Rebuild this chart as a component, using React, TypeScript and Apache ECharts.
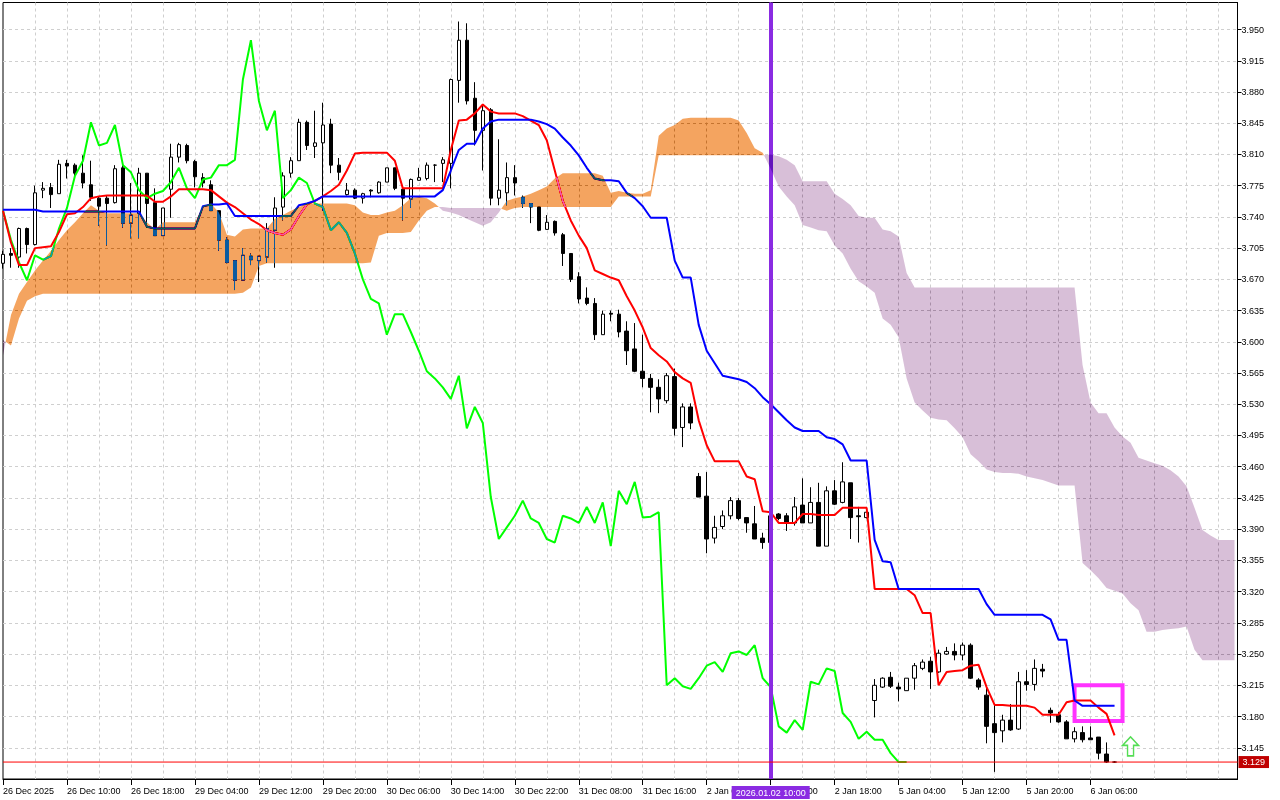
import React, { useEffect, useRef } from "react";
import * as echarts from "echarts";

// ---------- DATA (H1 bars, index = bar number) ----------
const openP = [
  3.688, 3.699, 3.695, 3.727, 3.709, 3.770, 3.773, 3.766, 3.800, 3.798,
  3.789, 3.776, 3.761, 3.761, 3.756, 3.795, 3.733, 3.744, 3.789, 3.756,
  3.719, 3.771, 3.807, 3.820, 3.802, 3.784, 3.776, 3.747, 3.714, 3.691,
  3.669, 3.696, 3.691, 3.695, 3.725, 3.751, 3.789, 3.803, 3.846, 3.819,
  3.823, 3.844, 3.798, 3.765, 3.770, 3.761, 3.770, 3.767, 3.779, 3.795,
  3.771, 3.760, 3.781, 3.783, 3.798, 3.800, 3.800, 3.893, 3.938, 3.873,
  3.837, 3.860, 3.761, 3.767, 3.784, 3.762, 3.755, 3.751, 3.726, 3.735,
  3.720, 3.699, 3.673, 3.649, 3.643, 3.608, 3.632, 3.631, 3.612, 3.592,
  3.567, 3.559, 3.549, 3.534, 3.561, 3.504, 3.527, 3.449, 3.427, 3.380,
  3.393, 3.405, 3.422, 3.403, 3.396, 3.380, 3.375, 3.407, 3.405, 3.397,
  3.417, 3.397, 3.420, 3.371, 3.433, 3.420, 3.442, 3.405, 3.403, 3.198,
  3.213, 3.224, 3.213, 3.209, 3.223, 3.234, 3.242, 3.230, 3.250, 3.253,
  3.249, 3.260, 3.221, 3.204, 3.172, 3.164, 3.176, 3.166, 3.219, 3.216,
  3.233, 3.187, 3.182, 3.174, 3.155, 3.162, 3.156, 3.157, 3.138, 3.129,
];
const highP = [
  3.702, 3.705, 3.728, 3.728, 3.775, 3.779, 3.778, 3.804, 3.804, 3.800,
  3.809, 3.803, 3.763, 3.764, 3.798, 3.798, 3.778, 3.795, 3.789, 3.772,
  3.750, 3.822, 3.823, 3.822, 3.804, 3.789, 3.781, 3.747, 3.717, 3.691,
  3.705, 3.699, 3.696, 3.733, 3.762, 3.790, 3.807, 3.850, 3.848, 3.859,
  3.868, 3.850, 3.806, 3.778, 3.772, 3.767, 3.771, 3.780, 3.795, 3.795,
  3.771, 3.783, 3.795, 3.801, 3.799, 3.807, 3.895, 3.959, 3.957, 3.891,
  3.865, 3.862, 3.827, 3.801, 3.798, 3.764, 3.755, 3.751, 3.742, 3.736,
  3.722, 3.699, 3.678, 3.661, 3.649, 3.635, 3.635, 3.636, 3.623, 3.621,
  3.608, 3.564, 3.558, 3.565, 3.570, 3.531, 3.531, 3.453, 3.454, 3.405,
  3.411, 3.426, 3.425, 3.403, 3.416, 3.386, 3.407, 3.408, 3.408, 3.426,
  3.447, 3.437, 3.442, 3.438, 3.445, 3.465, 3.442, 3.415, 3.414, 3.222,
  3.224, 3.230, 3.218, 3.223, 3.240, 3.244, 3.247, 3.255, 3.258, 3.262,
  3.263, 3.262, 3.223, 3.215, 3.193, 3.182, 3.194, 3.230, 3.232, 3.244,
  3.239, 3.190, 3.185, 3.176, 3.168, 3.169, 3.169, 3.157, 3.151, 3.130,
];
const lowP = [
  3.682, 3.683, 3.683, 3.699, 3.708, 3.761, 3.750, 3.766, 3.783, 3.783,
  3.772, 3.758, 3.730, 3.708, 3.755, 3.728, 3.716, 3.716, 3.728, 3.719,
  3.719, 3.739, 3.801, 3.800, 3.773, 3.773, 3.747, 3.702, 3.688, 3.658,
  3.669, 3.686, 3.667, 3.689, 3.683, 3.736, 3.784, 3.803, 3.815, 3.806,
  3.747, 3.789, 3.781, 3.764, 3.760, 3.755, 3.762, 3.766, 3.779, 3.770,
  3.736, 3.750, 3.781, 3.781, 3.779, 3.779, 3.772, 3.868, 3.866, 3.820,
  3.792, 3.753, 3.753, 3.753, 3.764, 3.750, 3.733, 3.724, 3.726, 3.719,
  3.685, 3.667, 3.643, 3.641, 3.602, 3.608, 3.623, 3.605, 3.574, 3.566,
  3.549, 3.521, 3.520, 3.531, 3.495, 3.482, 3.502, 3.426, 3.363, 3.374,
  3.390, 3.401, 3.400, 3.386, 3.379, 3.368, 3.371, 3.400, 3.388, 3.394,
  3.397, 3.397, 3.371, 3.371, 3.417, 3.419, 3.379, 3.375, 3.402, 3.179,
  3.212, 3.212, 3.197, 3.209, 3.210, 3.232, 3.211, 3.229, 3.249, 3.243,
  3.243, 3.222, 3.210, 3.150, 3.118, 3.151, 3.164, 3.165, 3.209, 3.209,
  3.224, 3.173, 3.173, 3.155, 3.151, 3.151, 3.154, 3.132, 3.128, 3.128,
];
const closeP = [
  3.698, 3.697, 3.727, 3.709, 3.767, 3.772, 3.765, 3.799, 3.797, 3.789,
  3.778, 3.762, 3.752, 3.755, 3.794, 3.733, 3.742, 3.789, 3.755, 3.719,
  3.750, 3.807, 3.821, 3.803, 3.785, 3.778, 3.747, 3.714, 3.689, 3.669,
  3.697, 3.692, 3.696, 3.727, 3.750, 3.786, 3.803, 3.846, 3.820, 3.823,
  3.843, 3.798, 3.790, 3.770, 3.761, 3.766, 3.769, 3.779, 3.795, 3.772,
  3.761, 3.782, 3.784, 3.798, 3.798, 3.804, 3.894, 3.938, 3.870, 3.837,
  3.859, 3.761, 3.770, 3.784, 3.778, 3.755, 3.751, 3.725, 3.734, 3.722,
  3.699, 3.670, 3.648, 3.643, 3.608, 3.631, 3.631, 3.611, 3.590, 3.567,
  3.559, 3.549, 3.536, 3.562, 3.503, 3.527, 3.509, 3.426, 3.379, 3.392,
  3.405, 3.422, 3.402, 3.397, 3.379, 3.375, 3.405, 3.402, 3.397, 3.415,
  3.397, 3.420, 3.371, 3.433, 3.418, 3.443, 3.403, 3.404, 3.409, 3.215,
  3.223, 3.214, 3.211, 3.223, 3.237, 3.241, 3.230, 3.251, 3.253, 3.249,
  3.260, 3.223, 3.213, 3.169, 3.162, 3.176, 3.165, 3.219, 3.216, 3.234,
  3.231, 3.184, 3.174, 3.155, 3.163, 3.154, 3.154, 3.139, 3.129, 3.129,
];
const tenkanSen = [
  3.747, 3.711, 3.686, 3.686, 3.705, 3.706, 3.707, 3.723, 3.743, 3.744,
  3.751, 3.761, 3.763, 3.764, 3.764, 3.764, 3.764, 3.764, 3.764, 3.757,
  3.757, 3.763, 3.771, 3.771, 3.771, 3.771, 3.770, 3.763, 3.756, 3.751,
  3.744, 3.737, 3.732, 3.725, 3.722, 3.720, 3.726, 3.741, 3.754, 3.758,
  3.763, 3.769, 3.776, 3.792, 3.811, 3.812, 3.812, 3.812, 3.812, 3.803,
  3.772, 3.772, 3.772, 3.772, 3.772, 3.772, 3.815, 3.848, 3.849, 3.856,
  3.866, 3.858, 3.856, 3.856, 3.856, 3.853, 3.848, 3.843, 3.826, 3.792,
  3.758, 3.736, 3.719, 3.705, 3.680, 3.676, 3.672, 3.669, 3.651, 3.635,
  3.616, 3.593, 3.585, 3.578, 3.566, 3.559, 3.554, 3.512, 3.484, 3.466,
  3.466, 3.466, 3.466, 3.449, 3.446, 3.410, 3.409, 3.397, 3.397, 3.397,
  3.407, 3.407, 3.406, 3.406, 3.406, 3.414, 3.414, 3.414, 3.414, 3.323,
  3.323, 3.323, 3.323, 3.323, 3.316, 3.296, 3.296, 3.215, 3.230, 3.231,
  3.232, 3.237, 3.238, 3.213, 3.193, 3.193, 3.192, 3.192, 3.192, 3.190,
  3.182, 3.182, 3.182, 3.196, 3.198, 3.198, 3.198, 3.190, 3.183, 3.159,
];
const kijunSen = [
  3.748, 3.748, 3.748, 3.748, 3.748, 3.746, 3.746, 3.746, 3.746, 3.746,
  3.746, 3.746, 3.746, 3.746, 3.746, 3.746, 3.746, 3.746, 3.729, 3.727,
  3.727, 3.727, 3.727, 3.727, 3.727, 3.752, 3.754, 3.754, 3.755, 3.741,
  3.741, 3.741, 3.741, 3.741, 3.741, 3.741, 3.741, 3.753, 3.755, 3.758,
  3.763, 3.763, 3.763, 3.763, 3.763, 3.763, 3.763, 3.763, 3.763, 3.763,
  3.763, 3.763, 3.763, 3.763, 3.763, 3.770, 3.792, 3.815, 3.822, 3.822,
  3.839, 3.847, 3.849, 3.849, 3.849, 3.849, 3.849, 3.847, 3.844, 3.839,
  3.829, 3.820, 3.809, 3.795, 3.783, 3.781, 3.781, 3.780, 3.767, 3.761,
  3.752, 3.739, 3.739, 3.739, 3.691, 3.672, 3.672, 3.619, 3.590, 3.576,
  3.562, 3.560, 3.558, 3.555, 3.548, 3.538, 3.530, 3.521, 3.512, 3.504,
  3.500, 3.500, 3.500, 3.493, 3.491, 3.485, 3.467, 3.467, 3.467, 3.378,
  3.354, 3.353, 3.323, 3.323, 3.323, 3.323, 3.323, 3.323, 3.323, 3.323,
  3.323, 3.323, 3.323, 3.306, 3.294, 3.294, 3.294, 3.294, 3.294, 3.294,
  3.294, 3.289, 3.266, 3.266, 3.198, 3.192, 3.192, 3.192, 3.192, 3.192,
];
// Senkou spans, plotted 26 bars ahead (indices run past the last candle)
const senkouA = [
  3.585, 3.630, 3.654, 3.667, 3.680, 3.691, 3.702, 3.714, 3.725, 3.734,
  3.744, 3.753, 3.747, 3.744, 3.744, 3.744, 3.744, 3.744, 3.734, 3.726,
  3.734, 3.734, 3.734, 3.734, 3.734, 3.752, 3.755, 3.745, 3.720, 3.718,
  3.726, 3.727, 3.727, 3.727, 3.738, 3.742, 3.747, 3.751, 3.755, 3.755,
  3.755, 3.755, 3.755, 3.755, 3.753, 3.745, 3.742, 3.742, 3.745, 3.747,
  3.753, 3.761, 3.762, 3.761, 3.755, 3.747, 3.745, 3.742, 3.738, 3.734,
  3.730, 3.734, 3.745, 3.758, 3.761, 3.763, 3.766, 3.770, 3.774, 3.783,
  3.789, 3.789, 3.789, 3.789, 3.789, 3.786, 3.767, 3.769, 3.767, 3.766,
  3.766, 3.770, 3.831, 3.839, 3.843, 3.850, 3.851, 3.851, 3.851, 3.851,
  3.851, 3.851, 3.848, 3.834, 3.817, 3.812, 3.794, 3.774, 3.763, 3.753,
  3.731, 3.728, 3.725, 3.724, 3.708, 3.699, 3.682, 3.668, 3.662, 3.655,
  3.626, 3.619, 3.605, 3.559, 3.532, 3.523, 3.515, 3.513, 3.512, 3.503,
  3.493, 3.474, 3.466, 3.457, 3.454, 3.453, 3.453, 3.452, 3.449, 3.447,
  3.445, 3.442, 3.439, 3.439, 3.439, 3.352, 3.344, 3.335, 3.324, 3.321,
  3.318, 3.307, 3.299, 3.275, 3.275, 3.277, 3.278, 3.279, 3.281, 3.255,
  3.243, 3.243, 3.243, 3.243, 3.243,
];
const senkouB = [
  3.602, 3.596, 3.626, 3.646, 3.651, 3.654, 3.654, 3.654, 3.654, 3.654,
  3.654, 3.654, 3.654, 3.654, 3.654, 3.654, 3.654, 3.654, 3.654, 3.654,
  3.654, 3.654, 3.654, 3.654, 3.654, 3.654, 3.654, 3.654, 3.654, 3.654,
  3.655, 3.661, 3.685, 3.688, 3.688, 3.688, 3.688, 3.688, 3.688, 3.688,
  3.688, 3.688, 3.688, 3.688, 3.688, 3.688, 3.689, 3.719, 3.722, 3.722,
  3.722, 3.723, 3.736, 3.747, 3.751, 3.751, 3.750, 3.750, 3.750, 3.750,
  3.750, 3.750, 3.750, 3.747, 3.750, 3.751, 3.751, 3.751, 3.751, 3.751,
  3.751, 3.751, 3.751, 3.751, 3.751, 3.751, 3.751, 3.763, 3.763, 3.763,
  3.763, 3.763, 3.809, 3.809, 3.809, 3.809, 3.809, 3.809, 3.809, 3.809,
  3.809, 3.809, 3.809, 3.809, 3.809, 3.809, 3.810, 3.808, 3.804, 3.798,
  3.780, 3.780, 3.780, 3.780, 3.766, 3.760, 3.753, 3.741, 3.739, 3.739,
  3.726, 3.724, 3.718, 3.677, 3.661, 3.661, 3.661, 3.661, 3.661, 3.661,
  3.661, 3.661, 3.661, 3.661, 3.661, 3.661, 3.661, 3.661, 3.661, 3.661,
  3.661, 3.661, 3.661, 3.661, 3.661, 3.574, 3.532, 3.520, 3.520, 3.504,
  3.494, 3.487, 3.470, 3.467, 3.464, 3.461, 3.456, 3.449, 3.438, 3.414,
  3.389, 3.383, 3.378, 3.378, 3.378,
];
const CHIKOU_SHIFT = 26;

// time-axis labels, one every 8 bars
const timeLabelBars = [0, 8, 16, 24, 32, 40, 48, 56, 64, 72, 80, 88, 96, 104, 112, 120, 128, 136];
const timeLabels = [
  "26 Dec 2025", "26 Dec 10:00", "26 Dec 18:00", "29 Dec 04:00", "29 Dec 12:00",
  "29 Dec 20:00", "30 Dec 06:00", "30 Dec 14:00", "30 Dec 22:00", "31 Dec 08:00",
  "31 Dec 16:00", "2 Jan 02:00", "2 Jan 10:00", "2 Jan 18:00", "5 Jan 04:00",
  "5 Jan 12:00", "5 Jan 20:00", "6 Jan 06:00",
];
const priceMin = 3.11;
const priceMax = 3.9803;
const priceStep = 0.035;
const bidPrice = 3.129;
const markerBar = 96;
const markerLabel = "2026.01.02 10:00";
const boxBars = [134, 140];
const boxPrices = [3.215, 3.175];
const arrowAt = [141, 3.1465];

const FONT = "Liberation Sans, Arial, sans-serif";
// cloud colours are drawn with a "difference" blend (MT4 XOR style):
// #0b5b9f over white -> #f4a460 (sandy brown), #274027 over white -> #d8bfd8 (thistle)
const CLOUD_UP = "#0b5b9f";
const CLOUD_DOWN = "#274027";
const blendCss = `[fill="${CLOUD_UP}"],[fill="${CLOUD_DOWN}"]{mix-blend-mode:difference;}`;

const XMAX = 154.375;

function buildOption(): any {
  const candles = openP.map((o, i) => [i, o, closeP[i], lowP[i], highP[i]]);
  const tenkanData = tenkanSen.map((v, i) => [i, v]);
  const kijunData = kijunSen.map((v, i) => [i, v]);
  const chikouData = closeP.slice(CHIKOU_SHIFT).map((v, i) => [i, v]);

  const renderCloud = (_params: any, api: any) => {
    const children: any[] = [];
    let sign = 0;
    let upper: number[][] = [];
    let lower: number[][] = [];
    const flush = () => {
      if (upper.length >= 2) {
        const pts = upper.concat(lower.slice().reverse());
        children.push({
          type: "polygon",
          shape: { points: pts },
          style: { fill: sign > 0 ? CLOUD_UP : CLOUD_DOWN, stroke: "none" },
        });
      }
    };
    for (let k = 0; k < senkouA.length; k++) {
      const d = senkouA[k] - senkouB[k];
      const s = d >= 0 ? 1 : -1;
      if (k === 0) {
        sign = s;
        upper = [api.coord([k, senkouA[k]])];
        lower = [api.coord([k, senkouB[k]])];
        continue;
      }
      if (s !== sign) {
        const d0 = senkouA[k - 1] - senkouB[k - 1];
        const t = d0 / (d0 - d);
        const xc = k - 1 + t;
        const yc = senkouA[k - 1] + t * (senkouA[k] - senkouA[k - 1]);
        const pc = api.coord([xc, yc]);
        upper.push(pc);
        lower.push(pc);
        flush();
        sign = s;
        upper = [pc];
        lower = [pc];
      }
      upper.push(api.coord([k, senkouA[k]]));
      lower.push(api.coord([k, senkouB[k]]));
    }
    flush();
    return { type: "group", children };
  };

  const gridLine = {
    show: true,
    showMinLine: false,
    showMaxLine: false,
    lineStyle: { color: "#cfcfcf", type: [3, 3], width: 1 },
  };

  return {
    animation: false,
    backgroundColor: "#ffffff",
    textStyle: { fontFamily: FONT },
    grid: {
      left: 2.5,
      top: 2.5,
      right: 42.5,
      bottom: 21,
      show: true,
      borderColor: "#000",
      borderWidth: 1,
      backgroundColor: "transparent",
    },
    xAxis: [
      {
        type: "value",
        min: 0,
        max: XMAX,
        interval: 4,
        axisLine: { show: false },
        axisTick: { show: false },
        axisLabel: { show: false },
        splitLine: gridLine,
      },
      {
        type: "value",
        min: 0,
        max: XMAX,
        position: "bottom",
        axisLine: { show: true, onZero: false, lineStyle: { color: "#000", width: 1 } },
        splitLine: { show: false },
        axisTick: {
          show: true,
          customValues: timeLabelBars,
          length: 6,
          lineStyle: { color: "#000" },
        },
        axisLabel: {
          customValues: timeLabelBars,
          formatter: (v: number) => {
            const i = timeLabelBars.indexOf(Math.round(v));
            return i >= 0 ? timeLabels[i] : "";
          },
          align: "left",
          margin: 7,
          fontSize: 9,
          fontFamily: FONT,
          color: "#000",
        },
      },
    ],
    yAxis: {
      type: "value",
      position: "right",
      min: priceMin,
      max: priceMax,
      interval: priceStep,
      axisLine: { show: true, onZero: false, lineStyle: { color: "#000", width: 1 } },
      axisTick: { show: true, length: 4, lineStyle: { color: "#000" } },
      axisLabel: {
        formatter: (v: number) => v.toFixed(3),
        fontSize: 9,
        fontFamily: FONT,
        color: "#000",
        margin: 4,
        showMinLabel: false,
        showMaxLabel: false,
      },
      splitLine: gridLine,
    },
    series: [
      {
        name: "Price",
        type: "candlestick",
        data: candles,
        encode: { x: 0, y: [1, 2, 3, 4] },
        barWidth: 4,
        z: 2,
        itemStyle: {
          color: "#ffffff",
          color0: "#000000",
          borderColor: "#000000",
          borderColor0: "#000000",
          borderColorDoji: "#000000",
          borderWidth: 1,
        },
      },
      {
        name: "Chikou Span",
        type: "line",
        data: chikouData,
        symbol: "none",
        z: 3,
        lineStyle: { color: "#00ff00", width: 2 },
      },
      {
        name: "Tenkan-sen",
        type: "line",
        data: tenkanData,
        symbol: "none",
        z: 3,
        lineStyle: { color: "#ff0000", width: 2 },
      },
      {
        name: "Kijun-sen",
        type: "line",
        data: kijunData,
        symbol: "none",
        z: 3,
        lineStyle: { color: "#0000ff", width: 2 },
      },
      {
        name: "Kumo",
        type: "custom",
        data: [[0, senkouA[0]]],
        renderItem: renderCloud,
        silent: true,
        z: 5,
      },
      {
        name: "Bid line",
        type: "line",
        data: [
          [0, bidPrice],
          [XMAX, bidPrice],
        ],
        symbol: "none",
        silent: true,
        clip: false,
        z: 9,
        color: "#ff0000",
        lineStyle: { color: "#ff0000", width: 1, type: "solid" },
        endLabel: {
          show: true,
          formatter: bidPrice.toFixed(3),
          color: "#ffffff",
          backgroundColor: "#c00000",
          padding: [2, 4, 1, 4],
          fontSize: 9,
          fontFamily: FONT,
          distance: 1,
        },
      },
      {
        name: "Objects",
        type: "line",
        data: [],
        z: 10,
        silent: true,
        markArea: {
          silent: true,
          itemStyle: { color: "rgba(0,0,0,0)", borderColor: "#ff33ff", borderWidth: 4 },
          data: [[{ coord: [boxBars[0], boxPrices[0]] }, { coord: [boxBars[1], boxPrices[1]] }]],
        },
        markPoint: {
          silent: true,
          data: [
            {
              coord: arrowAt,
              symbol: "path://M8,0 L16,8 L11,8 L11,18 L5,18 L5,8 L0,8 Z",
              symbolSize: [16, 19],
              itemStyle: { color: "rgba(0,0,0,0)", borderColor: "#55dd55", borderWidth: 1.5 },
              label: { show: false },
            },
          ],
        },
        markLine: {
          silent: true,
          symbol: ["none", "none"],
          lineStyle: { color: "#8a2be2", width: 4, type: "solid", opacity: 1 },
          label: {
            show: true,
            position: "start",
            formatter: markerLabel,
            color: "#ffffff",
            backgroundColor: "#8a2be2",
            padding: [2, 4, 2, 4],
            fontSize: 9,
            fontFamily: FONT,
            distance: 7,
          },
          data: [{ xAxis: markerBar }],
        },
      },
    ],
  };
}

export default function App() {
  const ref = useRef<HTMLDivElement>(null);
  useEffect(() => {
    if (!ref.current) return;
    const chart = echarts.init(ref.current, null, { renderer: "svg" });
    chart.setOption(buildOption());
    return () => chart.dispose();
  }, []);
  return (
    <>
      <style>{blendCss}</style>
      <div
        ref={ref}
        style={{ position: "fixed", left: 0, top: 0, width: 1280, height: 800, background: "#fff" }}
      />
    </>
  );
}
